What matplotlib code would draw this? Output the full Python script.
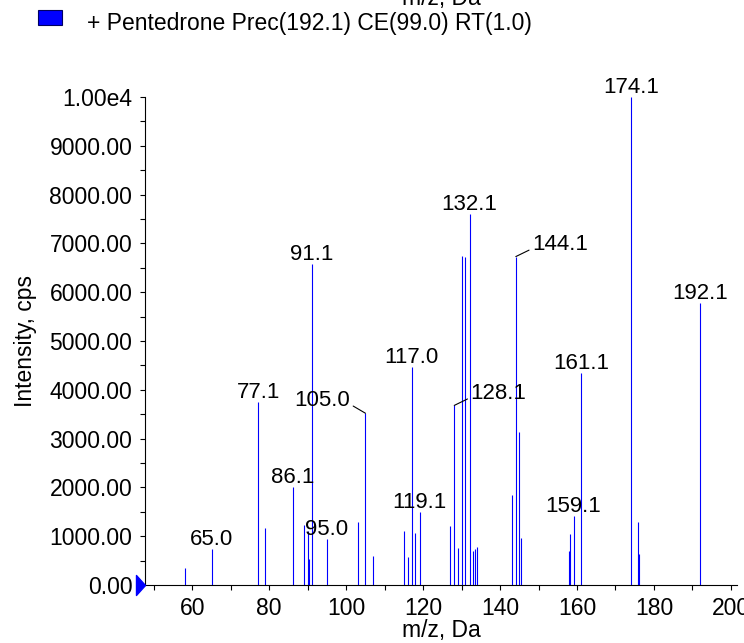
import matplotlib
matplotlib.use('Agg')
import matplotlib.pyplot as plt
from matplotlib.patches import Rectangle
from matplotlib.ticker import MultipleLocator, FuncFormatter
from matplotlib.path import Path

plt.rcParams['font.family'] = ['Liberation Sans', 'DejaVu Sans']

# ---- data ----
mz = [58.0, 65.0, 77.1, 79.0, 86.1, 89.0, 90.0, 90.3, 91.1, 95.0,
      103.0, 105.0, 107.0, 115.0, 116.0, 117.0, 118.0, 119.1,
      127.0, 128.1, 129.0, 130.0, 131.0, 132.1, 133.0, 133.5, 134.0,
      143.0, 144.1, 145.0, 145.4, 158.0, 158.3, 159.1, 161.1,
      174.1, 175.8, 176.2, 192.1]
intensity = [350, 740, 3740, 1160, 2000, 1220, 1100, 530, 6570, 940,
             1290, 3520, 600, 1100, 580, 4460, 1075, 1500,
             1210, 3680, 760, 6750, 6730, 7600, 700, 740, 770,
             1840, 6730, 3130, 960, 690, 1040, 1420, 4345,
             10000, 1290, 645, 5785]

labels_top = ["65.0", "77.1", "86.1", "91.1", "95.0", "117.0", "119.1",
              "132.1", "159.1", "161.1", "174.1", "192.1"]
labels_leader_left = ["105.0"]
labels_leader_right = ["128.1", "144.1"]

legend_text = "+ Pentedrone Prec(192.1) CE(99.0) RT(1.0)"
x_label = "m/z, Da"
y_label = "Intensity, cps"

# ---- figure ----
W, H = 744, 643
fig = plt.figure(figsize=(W / 100, H / 100), dpi=100)
ax = fig.add_axes([145 / W, (H - 585) / H, (737 - 145) / W, (585 - 97) / H])

blue = '#0000FF'
ax.vlines(mz, 0, intensity, colors=blue, lw=0.8)

xmin, xmax = 47.7, 201.6
ax.set_xlim(xmin, xmax)
ax.set_ylim(0, 10000)

for s in ('top', 'right'):
    ax.spines[s].set_visible(False)
for s in ('left', 'bottom'):
    ax.spines[s].set_linewidth(0.8)

ax.xaxis.set_major_locator(MultipleLocator(20))
ax.xaxis.set_minor_locator(MultipleLocator(10))
ax.yaxis.set_major_locator(MultipleLocator(1000))
ax.yaxis.set_minor_locator(MultipleLocator(500))
ax.yaxis.set_major_formatter(FuncFormatter(
    lambda v, p: '1.00e4' if v >= 10000 else f'{v:.2f}'))
fs_tick = 16.5
ax.tick_params(which='both', direction='out', length=3.6, width=0.8,
               color='black', labelsize=fs_tick)
ax.tick_params(axis='y', which='major', pad=5.5)
ax.tick_params(axis='x', which='major', pad=5.0)

# marker at zero
tri = Path([(-0.9, -1), (0, 0), (-0.9, 1), (-0.9, -1)],
           [Path.MOVETO, Path.LINETO, Path.LINETO, Path.CLOSEPOLY])
ax.plot([xmin], [0], marker=tri, ms=14.4, color=blue, mec=blue,
        clip_on=False, zorder=5)

lookup = {f"{m:.1f}": v for m, v in zip(mz, intensity)}
fs_ann = 16

for lab in labels_top:
    x = float(lab)
    ax.annotate(lab, (x, lookup[lab]), xytext=(0, 4),
                textcoords='offset pixels', ha='center', va='baseline',
                fontsize=fs_ann)

arrow = dict(arrowstyle='-', color='black', lw=0.8, shrinkA=0, shrinkB=0)
for lab in labels_leader_left:
    x = float(lab)
    ax.annotate(lab, (x, lookup[lab]), xytext=(-15, 13),
                textcoords='offset pixels', ha='right', va='center',
                fontsize=fs_ann, arrowprops=dict(arrow, relpos=(1, 0.3)))
for lab in labels_leader_right:
    x = float(lab)
    ax.annotate(lab, (x, lookup[lab]), xytext=(16, 12),
                textcoords='offset pixels', ha='left', va='center',
                fontsize=fs_ann, arrowprops=dict(arrow, relpos=(0, 0.3)))

# axis labels
fig.text(441 / W, 1 - 630 / H, x_label, ha='center', va='center', fontsize=fs_tick)
fig.text(26 / W, 1 - 341 / H, y_label, ha='center', va='center',
         rotation=90, fontsize=fs_tick)

# cut-off label at the very top
fig.text(441 / W, 1 - 5 / H, x_label, ha='center', va='baseline', fontsize=fs_tick)

# legend
fig.add_artist(Rectangle((38 / W, 1 - 25 / H), 24 / W, 15 / H,
                         transform=fig.transFigure, fc=blue, ec='#000060',
                         lw=0.8))
fig.text(87 / W, 1 - 30 / H, legend_text, ha='left', va='baseline',
         fontsize=16.5)

fig.savefig('out.png', dpi=100)
